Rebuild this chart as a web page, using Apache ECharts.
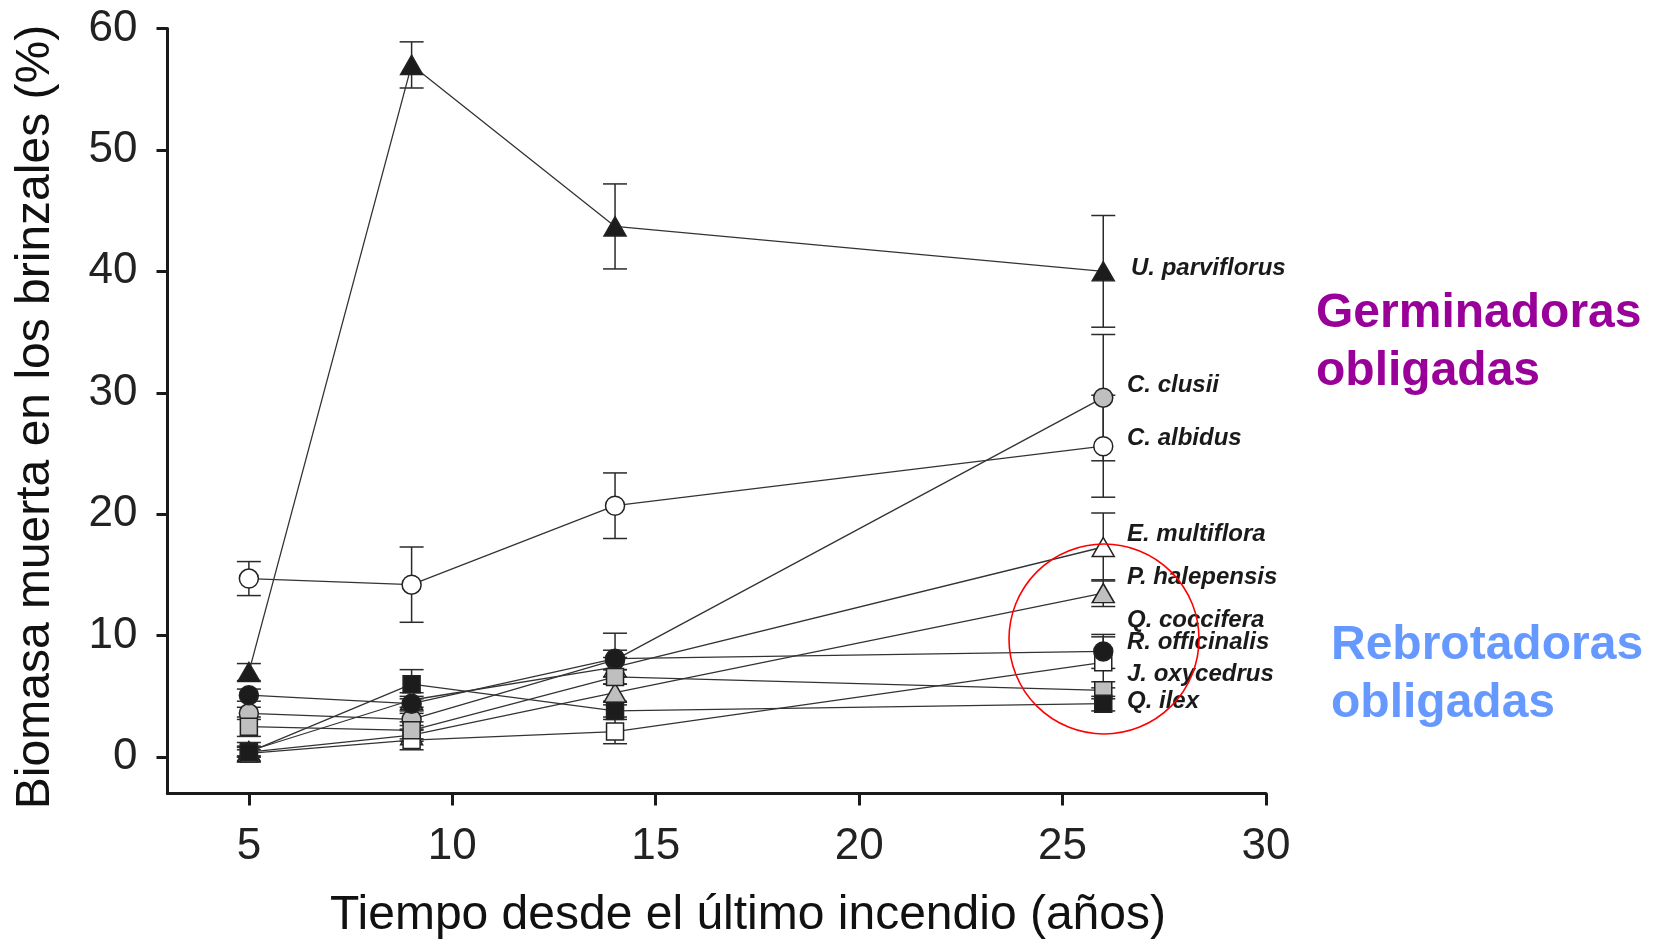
<!DOCTYPE html>
<html>
<head>
<meta charset="utf-8">
<script src="https://cdn.jsdelivr.net/npm/echarts@6/dist/echarts.min.js"></script>
<style>
  html, body { margin: 0; padding: 0; background: #ffffff; }
  #chart { width: 1661px; height: 941px; }
</style>
</head>
<body>
<div id="chart"></div>
<script>
// Sampling years after the last fire
const years = [5, 9, 14, 26];
const xTicks = [5, 10, 15, 20, 25, 30];
const yTicks = [0, 10, 20, 30, 40, 50, 60];

// Dead biomass (%) per species, with the half-width of each error bar
const uParviflorus = [7.0, 57.0, 43.7, 40.0];
const uParviflorusErr = [0.7, 1.9, 3.5, 4.6];
const cClusii = [3.6, 3.1, 8.0, 29.6];
const cClusiiErr = [0.5, 0.5, 0.8, 5.2];
const cAlbidus = [14.7, 14.2, 20.7, 25.6];
const cAlbidusErr = [1.4, 3.1, 2.7, 4.2];
const eMultiflora = [0.5, 4.7, 7.4, 17.3];
const eMultifloraErr = [0.4, 0.6, 0.8, 2.8];
const pHalepensis = [0.4, 1.8, 5.3, 13.5];
const pHalepensisErr = [0.4, 0.5, 0.7, 1.1];
const qCoccifera = [5.1, 4.4, 8.1, 8.7];
const qCocciferaErr = [0.5, 0.6, 2.1, 1.4];
const rOfficinalis = [0.3, 1.4, 2.1, 7.8];
const rOfficinalisErr = [0.3, 0.8, 1.0, 2.1];
const jOxycedrus = [2.5, 2.2, 6.6, 5.5];
const jOxycedrusErr = [0.8, 0.7, 0.6, 0.7];
const qIlex = [0.4, 6.0, 3.8, 4.4];
const qIlexErr = [0.8, 1.2, 0.5, 0.6];

const speciesNames = ['U. parviflorus', 'C. clusii', 'C. albidus', 'E. multiflora', 'P. halepensis',
  'Q. coccifera', 'R. officinalis', 'J. oxycedrus', 'Q. ilex'];
const groupLabels = ['Germinadoras\nobligadas', 'Rebrotadoras\nobligadas'];
const xTitle = 'Tiempo desde el último incendio (años)';
const yTitle = 'Biomasa muerta en los brinzales (%)';

// Marker look for each species (drawing order: light markers first, dark on top)
const BLACK = '#1c1c1c', GREY = '#bfbfbf', WHITE = '#ffffff';
const species = [
  { name: speciesNames[2], v: cAlbidus, e: cAlbidusErr, symbol: 'circle', fill: WHITE },
  { name: speciesNames[1], v: cClusii, e: cClusiiErr, symbol: 'circle', fill: GREY },
  { name: speciesNames[3], v: eMultiflora, e: eMultifloraErr, symbol: 'triangle', fill: WHITE },
  { name: speciesNames[4], v: pHalepensis, e: pHalepensisErr, symbol: 'triangle', fill: GREY },
  { name: speciesNames[6], v: rOfficinalis, e: rOfficinalisErr, symbol: 'rect', fill: WHITE },
  { name: speciesNames[7], v: jOxycedrus, e: jOxycedrusErr, symbol: 'rect', fill: GREY },
  { name: speciesNames[5], v: qCoccifera, e: qCocciferaErr, symbol: 'circle', fill: BLACK },
  { name: speciesNames[8], v: qIlex, e: qIlexErr, symbol: 'rect', fill: BLACK },
  { name: speciesNames[0], v: uParviflorus, e: uParviflorusErr, symbol: 'triangle', fill: BLACK }
];
const symbolSizes = { circle: 19, triangle: [22, 19], rect: 17 };

const chart = echarts.init(document.getElementById('chart'), null, { renderer: 'canvas' });

const FONT = '"Liberation Sans", Arial, Helvetica, sans-serif';
const AXIS_COLOR = '#1a1a1a';

function errorBars(sp) {
  return {
    type: 'custom',
    name: sp.name + ' (error)',
    z: 1,
    silent: true,
    encode: { x: 0, y: [1, 2] },
    data: years.map((x, i) => [x, sp.v[i] - sp.e[i], sp.v[i] + sp.e[i]]),
    renderItem(params, api) {
      const lo = api.coord([api.value(0), api.value(1)]);
      const hi = api.coord([api.value(0), api.value(2)]);
      const hw = 12;
      const style = { stroke: '#2a2a2a', lineWidth: 1.5 };
      return {
        type: 'group',
        children: [
          { type: 'line', shape: { x1: lo[0], y1: lo[1], x2: hi[0], y2: hi[1] }, style },
          { type: 'line', shape: { x1: lo[0] - hw, y1: lo[1], x2: lo[0] + hw, y2: lo[1] }, style },
          { type: 'line', shape: { x1: hi[0] - hw, y1: hi[1], x2: hi[0] + hw, y2: hi[1] }, style }
        ]
      };
    }
  };
}

function lineSeries(sp) {
  return {
    type: 'line',
    name: sp.name,
    z: 2,
    data: years.map((x, i) => [x, sp.v[i]]),
    symbol: sp.symbol,
    symbolSize: symbolSizes[sp.symbol],
    showAllSymbol: true,
    lineStyle: { color: '#333333', width: 1.3 },
    itemStyle: { color: sp.fill, borderColor: '#222222', borderWidth: 1.5 },
    emphasis: { disabled: true }
  };
}

const series = [];
species.forEach(sp => series.push(errorBars(sp)));
species.forEach(sp => series.push(lineSeries(sp)));

// Species names beside the last sampling year
const speciesLabelY = {
  'U. parviflorus': 268, 'C. clusii': 385, 'C. albidus': 438, 'E. multiflora': 534,
  'P. halepensis': 577, 'Q. coccifera': 620, 'R. officinalis': 642, 'J. oxycedrus': 674, 'Q. ilex': 701
};
const speciesLabelX = { 'U. parviflorus': 1131 };

const graphics = speciesNames.map(n => ({
  type: 'text',
  x: speciesLabelX[n] || 1127,
  y: speciesLabelY[n],
  z: 50,
  style: {
    text: n, fontFamily: FONT, fontSize: 24, fontWeight: 'bold', fontStyle: 'italic',
    fill: '#1a1a1a', align: 'left', verticalAlign: 'middle'
  }
}));

graphics.push(
  {
    type: 'text', x: 1316, y: 285, z: 50,
    style: { text: groupLabels[0], fontFamily: FONT, fontSize: 48, fontWeight: 'bold',
      fill: '#990099', lineHeight: 58, align: 'left', verticalAlign: 'top' }
  },
  {
    type: 'text', x: 1331, y: 617, z: 50,
    style: { text: groupLabels[1], fontFamily: FONT, fontSize: 48, fontWeight: 'bold',
      fill: '#6699ff', lineHeight: 58, align: 'left', verticalAlign: 'top' }
  },
  {
    type: 'text', x: 748, y: 916, z: 50,
    style: { text: xTitle, fontFamily: FONT, fontSize: 48, fill: '#111111',
      align: 'center', verticalAlign: 'middle' }
  },
  {
    type: 'text', x: 36, y: 417, rotation: Math.PI / 2, z: 50,
    style: { text: yTitle, fontFamily: FONT, fontSize: 48, fill: '#111111',
      align: 'center', verticalAlign: 'middle' }
  },
  {
    type: 'circle', z: 60, silent: true,
    shape: { cx: 1104, cy: 639, r: 95 },
    style: { fill: 'none', stroke: '#ff0000', lineWidth: 1.6 }
  }
);

const option = {
  animation: false,
  backgroundColor: '#ffffff',
  grid: { left: 167.5, right: 395, top: 28.5, bottom: 147.5, containLabel: false },
  xAxis: {
    type: 'value', min: 3, max: 30,
    axisLine: { show: true, onZero: false, lineStyle: { color: AXIS_COLOR, width: 3 } },
    axisTick: { show: true, customValues: xTicks, length: 12, lineStyle: { color: AXIS_COLOR, width: 3 } },
    axisLabel: { customValues: xTicks, fontSize: 44, fontFamily: FONT, color: '#222222', margin: 31 },
    splitLine: { show: false }
  },
  yAxis: {
    type: 'value', min: -3, max: 60,
    axisLine: { show: true, onZero: false, lineStyle: { color: AXIS_COLOR, width: 3 } },
    axisTick: { show: true, customValues: yTicks, length: 11, lineStyle: { color: AXIS_COLOR, width: 3 } },
    axisLabel: { customValues: yTicks, fontSize: 44, fontFamily: FONT, color: '#222222', margin: 30 },
    splitLine: { show: false }
  },
  series,
  graphic: graphics
};

chart.setOption(option);
</script>
</body>
</html>
